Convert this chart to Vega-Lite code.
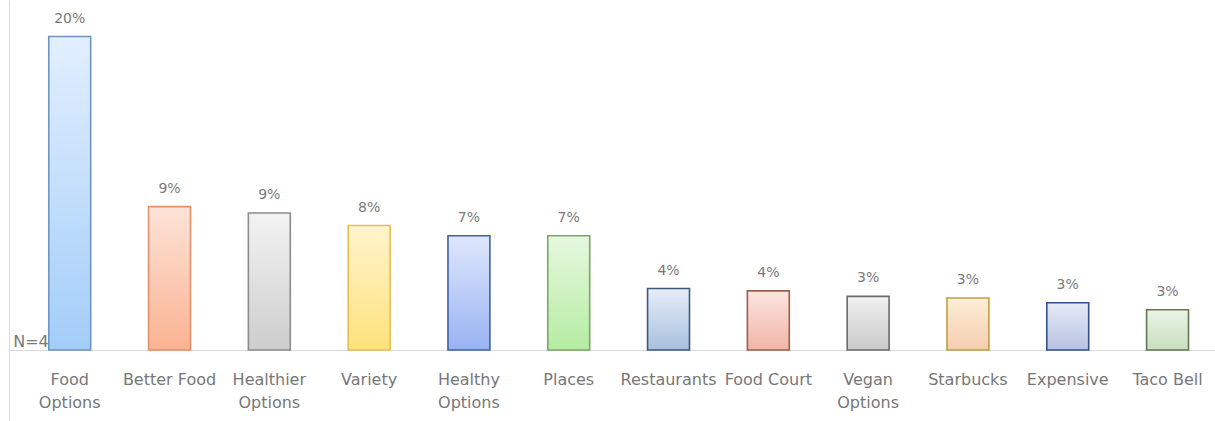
{
  "$schema": "https://vega.github.io/schema/vega-lite/v6.json",
  "autosize": {"type": "none"},
  "padding": {"left": 9, "top": 0, "right": 0, "bottom": 0},
  "width": 1206,
  "height": 421,
  "background": "white",
  "config": {"view": {"stroke": null}},
  "data": {"values": [
    {"category": "Food Options", "value": 0.199, "note": "N=4"},
    {"category": "Better Food", "value": 0.091},
    {"category": "Healthier Options", "value": 0.087},
    {"category": "Variety", "value": 0.079},
    {"category": "Healthy Options", "value": 0.0725},
    {"category": "Places", "value": 0.0725},
    {"category": "Restaurants", "value": 0.039},
    {"category": "Food Court", "value": 0.0375},
    {"category": "Vegan Options", "value": 0.034},
    {"category": "Starbucks", "value": 0.033},
    {"category": "Expensive", "value": 0.030},
    {"category": "Taco Bell", "value": 0.0255}
  ]},
  "encoding": {
    "x": {
      "field": "category", "type": "nominal", "sort": null,
      "scale": {"paddingInner": 0.58, "paddingOuter": 0.332, "align": 0.6},
      "axis": {
        "title": null, "orient": "bottom", "offset": -71,
        "domainColor": "#d9d9d9", "domainWidth": 1, "ticks": false,
        "labelAngle": 0, "labelFont": "DejaVu Sans", "labelFontSize": 16,
        "labelColor": "#777777", "labelPadding": 21, "labelLineHeight": 23,
        "labelBaseline": "top",
        "labelExpr": "indexof(datum.value, 'Options') > 0 ? split(datum.value, ' ') : datum.value"
      }
    },
    "y": {
      "field": "value", "type": "quantitative",
      "scale": {"domain": [-0.0451, 0.2222], "nice": false, "zero": false},
      "axis": {"title": null, "labels": false, "ticks": false, "grid": false, "domain": true, "domainColor": "#d9d9d9", "domainWidth": 1}
    }
  },
  "layer": [
    {"transform": [{"filter": "datum.category == 'Food Options'"}], "mark": {"type": "bar", "strokeWidth": 1.6, "stroke": "#6d94c2", "fill": {"gradient": "linear", "x1": 0, "y1": 0, "x2": 0, "y2": 1, "stops": [{"offset": 0, "color": "#e2efff"}, {"offset": 1, "color": "#a3cdf8"}]}}, "encoding": {"y2": {"datum": 0}}},
    {"transform": [{"filter": "datum.category == 'Better Food'"}], "mark": {"type": "bar", "strokeWidth": 1.6, "stroke": "#e0916b", "fill": {"gradient": "linear", "x1": 0, "y1": 0, "x2": 0, "y2": 1, "stops": [{"offset": 0, "color": "#fde3d8"}, {"offset": 1, "color": "#fbb392"}]}}, "encoding": {"y2": {"datum": 0}}},
    {"transform": [{"filter": "datum.category == 'Healthier Options'"}], "mark": {"type": "bar", "strokeWidth": 1.6, "stroke": "#8c8c8c", "fill": {"gradient": "linear", "x1": 0, "y1": 0, "x2": 0, "y2": 1, "stops": [{"offset": 0, "color": "#f3f3f3"}, {"offset": 1, "color": "#cdcdcd"}]}}, "encoding": {"y2": {"datum": 0}}},
    {"transform": [{"filter": "datum.category == 'Variety'"}], "mark": {"type": "bar", "strokeWidth": 1.6, "stroke": "#e6bf4f", "fill": {"gradient": "linear", "x1": 0, "y1": 0, "x2": 0, "y2": 1, "stops": [{"offset": 0, "color": "#fff4cc"}, {"offset": 1, "color": "#fde27c"}]}}, "encoding": {"y2": {"datum": 0}}},
    {"transform": [{"filter": "datum.category == 'Healthy Options'"}], "mark": {"type": "bar", "strokeWidth": 1.6, "stroke": "#3f61a8", "fill": {"gradient": "linear", "x1": 0, "y1": 0, "x2": 0, "y2": 1, "stops": [{"offset": 0, "color": "#dfe7fc"}, {"offset": 1, "color": "#98b3f3"}]}}, "encoding": {"y2": {"datum": 0}}},
    {"transform": [{"filter": "datum.category == 'Places'"}], "mark": {"type": "bar", "strokeWidth": 1.6, "stroke": "#7aa862", "fill": {"gradient": "linear", "x1": 0, "y1": 0, "x2": 0, "y2": 1, "stops": [{"offset": 0, "color": "#e7f8e0"}, {"offset": 1, "color": "#b5eca2"}]}}, "encoding": {"y2": {"datum": 0}}},
    {"transform": [{"filter": "datum.category == 'Restaurants'"}], "mark": {"type": "bar", "strokeWidth": 1.6, "stroke": "#3b5a80", "fill": {"gradient": "linear", "x1": 0, "y1": 0, "x2": 0, "y2": 1, "stops": [{"offset": 0, "color": "#e6edf7"}, {"offset": 1, "color": "#a9c0df"}]}}, "encoding": {"y2": {"datum": 0}}},
    {"transform": [{"filter": "datum.category == 'Food Court'"}], "mark": {"type": "bar", "strokeWidth": 1.6, "stroke": "#a05c48", "fill": {"gradient": "linear", "x1": 0, "y1": 0, "x2": 0, "y2": 1, "stops": [{"offset": 0, "color": "#fbe5df"}, {"offset": 1, "color": "#f1b5a6"}]}}, "encoding": {"y2": {"datum": 0}}},
    {"transform": [{"filter": "datum.category == 'Vegan Options'"}], "mark": {"type": "bar", "strokeWidth": 1.6, "stroke": "#6a6a6a", "fill": {"gradient": "linear", "x1": 0, "y1": 0, "x2": 0, "y2": 1, "stops": [{"offset": 0, "color": "#f1f1f1"}, {"offset": 1, "color": "#c9c9c9"}]}}, "encoding": {"y2": {"datum": 0}}},
    {"transform": [{"filter": "datum.category == 'Starbucks'"}], "mark": {"type": "bar", "strokeWidth": 1.6, "stroke": "#bf9f42", "fill": {"gradient": "linear", "x1": 0, "y1": 0, "x2": 0, "y2": 1, "stops": [{"offset": 0, "color": "#fdeed6"}, {"offset": 1, "color": "#f6cdb0"}]}}, "encoding": {"y2": {"datum": 0}}},
    {"transform": [{"filter": "datum.category == 'Expensive'"}], "mark": {"type": "bar", "strokeWidth": 1.6, "stroke": "#34508a", "fill": {"gradient": "linear", "x1": 0, "y1": 0, "x2": 0, "y2": 1, "stops": [{"offset": 0, "color": "#e6eaf6"}, {"offset": 1, "color": "#b7c3e3"}]}}, "encoding": {"y2": {"datum": 0}}},
    {"transform": [{"filter": "datum.category == 'Taco Bell'"}], "mark": {"type": "bar", "strokeWidth": 1.6, "stroke": "#5f7a50", "fill": {"gradient": "linear", "x1": 0, "y1": 0, "x2": 0, "y2": 1, "stops": [{"offset": 0, "color": "#ebf3e6"}, {"offset": 1, "color": "#c8dfbf"}]}}, "encoding": {"y2": {"datum": 0}}},
    {
      "mark": {"type": "text", "font": "DejaVu Sans", "fontSize": 14, "color": "#7a7a7a", "baseline": "alphabetic", "dy": -14},
      "encoding": {
        "text": {"field": "value", "type": "quantitative", "format": ".0%"}
      }
    },
    {
      "transform": [{"filter": "datum.category == 'Food Options'"}],
      "mark": {"type": "text", "font": "DejaVu Sans", "fontSize": 16, "color": "#7a7a7a", "align": "right", "baseline": "alphabetic", "dy": -3, "dx": -21},
      "encoding": {
        "y": {"datum": 0},
        "text": {"field": "note", "type": "nominal"}
      }
    }
  ]
}
